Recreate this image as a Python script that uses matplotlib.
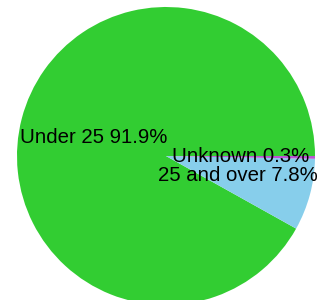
import matplotlib
matplotlib.use("Agg")
import matplotlib.pyplot as plt

# data
labels = ["Under 25", "25 and over", "Unknown"]
shares = [91.9, 7.8, 0.3]
colors = ["#32CD32", "#87CEEB", "#BA55D3"]

plt.rcParams['font.family'] = ['Liberation Sans', 'DejaVu Sans']

fig = plt.figure(figsize=(3.33, 3.0), dpi=100)
ax = fig.add_axes([17 / 333, -5 / 300, 298 / 333, 298 / 300])

texts_in = [f"{l} {s}%" for l, s in zip(labels, shares)]
wedges, texts = ax.pie(shares, labels=texts_in, colors=colors, startangle=0,
                       counterclock=True, labeldistance=0.5, radius=1,
                       textprops={'fontsize': 14.7, 'color': 'black'})
for t in texts:
    t.set_horizontalalignment('center')
    t.set_verticalalignment('center')

ax.set_xlim(-1, 1)
ax.set_ylim(-1, 1)
ax.set_aspect('equal')
ax.axis('off')

fig.savefig("out.png", dpi=100)
